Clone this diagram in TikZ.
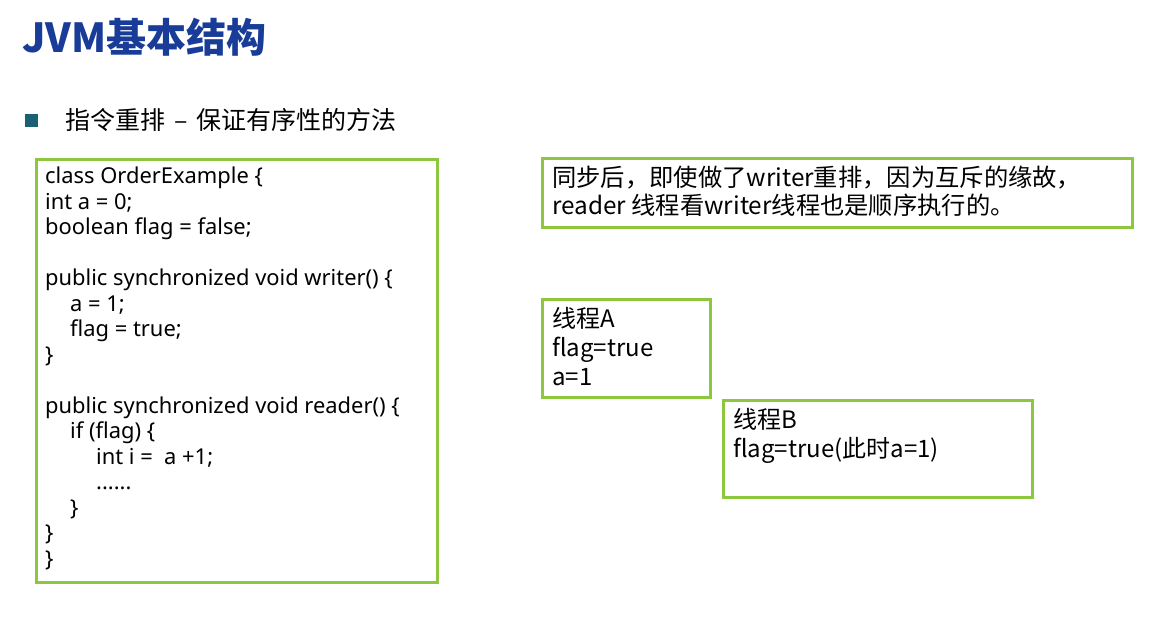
\documentclass[tikz,border=0pt]{standalone}
\usepackage{fontspec}
\setmainfont{Noto Sans}
\newfontfamily\cjk{Noto Sans CJK SC}
\usetikzlibrary{positioning}
\definecolor{framegreen}{RGB}{141,198,63}
\definecolor{titleblue}{RGB}{24,60,152}
\definecolor{bulletteal}{RGB}{27,96,116}
\begin{document}
\begin{tikzpicture}[x=1pt,y=-1pt,
    frame/.style={draw=framegreen, line width=3pt, anchor=north west, inner sep=0pt},
    boxtext/.style={anchor=north west, align=left, inner sep=0pt, font=\cjk\fontsize{24}{29}\selectfont},
    codetext/.style={anchor=north west, align=left, inner sep=0pt, font=\fontsize{21.9}{25.5}\selectfont}]
    \useasboundingbox (0,0) rectangle (1163,619);
    % Heading
    \node[anchor=base west, inner sep=0pt, text=titleblue, font=\cjk\bfseries\fontsize{40}{48}\selectfont] (title) at (22,52) {JVM基本结构};
    \node[fill=bulletteal, minimum size=13pt, inner sep=0pt] (bullet) at (31.5,120) {};
    \node[anchor=base west, inner sep=0pt, font=\cjk\fontsize{25}{29}\selectfont] (topic) at (65,129) {指令重排\hspace{9pt}–\hspace{9pt}保证有序性的方法};
    % Frames
    \node[frame, minimum width=401pt, minimum height=423pt] (codebox) at (35,158) {};
    \node[frame, minimum width=590pt, minimum height=69pt] (notebox) at (541,157) {};
    \node[frame, minimum width=168pt, minimum height=98pt] (threadabox) at (541,298) {};
    \node[frame, minimum width=309pt, minimum height=97pt] (threadbbox) at (722,399) {};
    % Texts
    \node[codetext] (code) at (45,167) {class OrderExample \{\\
int a = 0;\\
boolean flag = false;\\[25.5pt]
public synchronized void writer() \{\\
\hspace*{25pt}a = 1;\\
\hspace*{25pt}flag = true;\\
\}\\[25.5pt]
public synchronized void reader() \{\\
\hspace*{25pt}if (flag) \{\\
\hspace*{51pt}int i =\ \ a +1;\\
\hspace*{51pt}......\\
\hspace*{25pt}\}\\
\}\\
\}};
    \node[boxtext, font=\cjk\fontsize{24.3}{28}\selectfont] (note) at (552,166) {同步后，即使做了writer重排，因为互斥的缘故，\\reader 线程看writer线程也是顺序执行的。};
    \node[boxtext] (threada) at (552,307) {线程A\\flag=true\\a=1};
    \node[boxtext] (threadb) at (733,408) {线程B\\flag=true(此时a=1)};
\end{tikzpicture}
\end{document}
